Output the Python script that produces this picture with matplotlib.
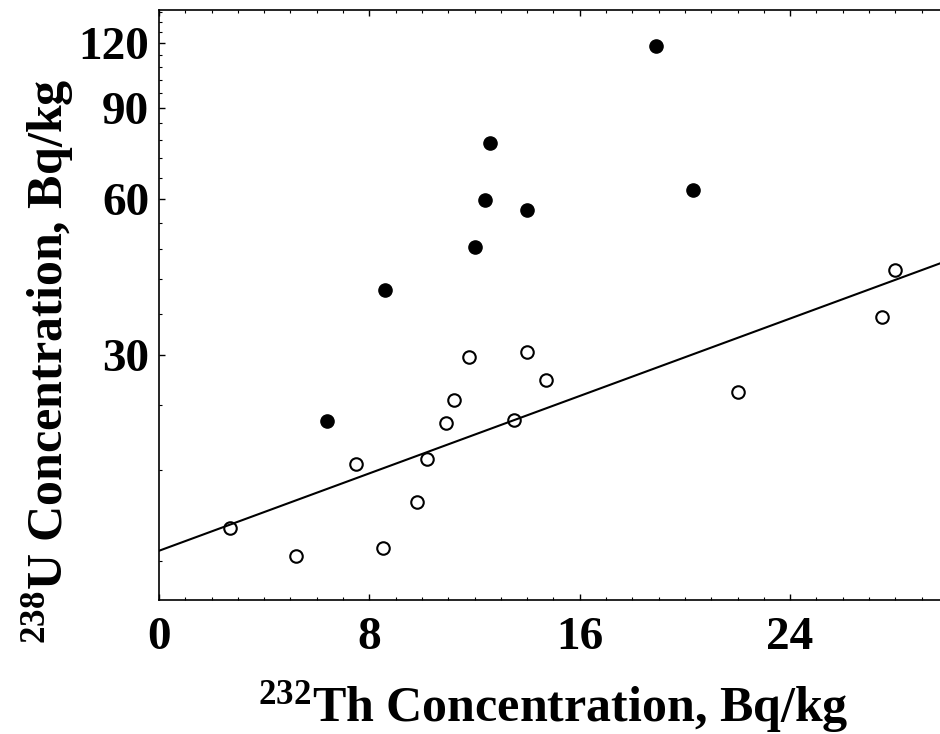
import matplotlib
matplotlib.use('Agg')
import matplotlib.pyplot as plt
import numpy as np
from matplotlib.ticker import FixedLocator, NullFormatter

plt.rcParams['font.family'] = ['Liberation Serif', 'DejaVu Serif']
plt.rcParams['font.weight'] = 'bold'
plt.rcParams['mathtext.fontset'] = 'custom'
plt.rcParams['mathtext.rm'] = 'Liberation Serif:bold'
plt.rcParams['mathtext.bf'] = 'Liberation Serif:bold'
plt.rcParams['mathtext.it'] = 'Liberation Serif:bold'

# data (Th-232 vs U-238, Bq/kg)
th_filled = [6.4, 8.6, 12.0, 12.4, 12.6, 14.0, 18.9, 20.3]
u_filled = [22.4, 40.0, 48.5, 59.8, 76.9, 57.2, 118.5, 62.5]
th_open = [2.7, 5.2, 7.5, 8.5, 9.8, 10.2, 10.9, 11.2, 11.8, 13.5, 14.0, 14.7, 22.0, 27.5, 28.0]
u_open = [13.9, 12.3, 18.5, 12.7, 15.6, 18.9, 22.2, 24.6, 29.7, 22.5, 30.4, 26.8, 25.5, 35.6, 43.8]

# exponential fit line U = a * exp(b * Th)
fit_a = 12.57
fit_b = 0.043

x_ticks = [0, 8, 16, 24]
x_ticklabels = ['0', '8', '16', '24']
y_ticks = [30, 60, 90, 120]
y_ticklabels = ['30', '60', '90', '120']
y_minor = [v for v in range(12, 139, 6) if v not in y_ticks]

xlim = (0, 29.7)
ylim = (10.1, 139)

fig = plt.figure(figsize=(9.4, 7.34), dpi=100)
ax = fig.add_axes([159/940, 1 - 600/734, (940 - 159)/940, 590/734])

xs = np.linspace(xlim[0], xlim[1], 200)
ax.plot(xs, fit_a * np.exp(fit_b * xs), color='black', lw=1.5, zorder=2)
ax.plot(th_open, u_open, 'o', ms=9, mfc='none', mec='black', mew=1.5, zorder=3)
ax.plot(th_filled, u_filled, 'o', ms=9.5, mfc='black', mec='black', zorder=3)

ax.set_yscale('log')
ax.set_xlim(*xlim)
ax.set_ylim(*ylim)
ax.set_xticks(x_ticks, labels=x_ticklabels)
ax.xaxis.set_minor_locator(FixedLocator(np.arange(0, 30, 1)))
ax.set_yticks(y_ticks, labels=y_ticklabels)
ax.yaxis.set_minor_locator(FixedLocator(y_minor))
ax.yaxis.set_minor_formatter(NullFormatter())

ax.tick_params(which='both', direction='in', top=True, right=False, colors='black')
ax.tick_params(which='major', length=4, width=1.0, labelsize=34)
ax.tick_params(which='minor', length=2.2, width=0.8)
ax.tick_params(axis='y', which='major', pad=7)
ax.tick_params(axis='x', which='major', pad=12)
for lab in ax.get_xticklabels() + ax.get_yticklabels():
    lab.set_fontweight('bold')

for s in ['left', 'bottom', 'top']:
    ax.spines[s].set_linewidth(1.2)
ax.spines['right'].set_visible(False)

fig.text(553/940, 1 - 721/734, r'$^{\mathbf{232}}$Th Concentration, Bq/kg',
         fontsize=36, fontweight='bold', ha='center', va='baseline')
fig.text(62/940, 1 - 361/734, r'$^{\mathbf{238}}$U Concentration, Bq/kg',
         fontsize=36, fontweight='bold', rotation=90, rotation_mode='anchor',
         ha='center', va='baseline')

fig.savefig('out.png', dpi=100)
